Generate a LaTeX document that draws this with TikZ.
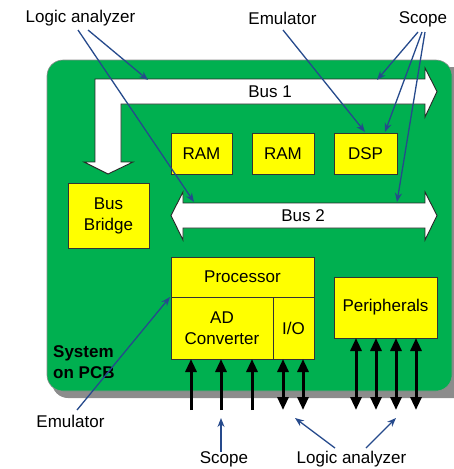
\documentclass[tikz,border=0pt]{standalone}
\usepackage{fontspec}
\setmainfont{Liberation Sans}
\usetikzlibrary{arrows.meta}
\definecolor{pcbgreen}{RGB}{0,176,80}
\definecolor{chipyellow}{RGB}{255,255,0}
\definecolor{probeblue}{RGB}{38,74,140}
\definecolor{shadowgray}{RGB}{140,140,140}
\begin{document}
\begin{tikzpicture}[x=1pt,y=-1pt,
  font=\fontsize{17}{20}\selectfont,
  chip/.style={draw=black!80,line width=0.8pt,fill=chipyellow,inner sep=0pt,align=center},
  tag/.style={inner sep=0pt},
  probe/.style={draw=probeblue,line width=1.3pt,-{Stealth[length=9pt,width=7pt]}},
  pin/.style={draw=black,line width=3pt,-{Triangle[length=13pt,width=11pt]}},
  bipin/.style={draw=black,line width=3pt,{Triangle[length=13pt,width=11pt]}-{Triangle[length=13pt,width=11pt]}},
  busbody/.style={draw=black!85,line width=0.9pt,fill=white,line join=miter}]
\useasboundingbox (0,0) rectangle (453,469);

% board with its drop shadow
\fill[shadowgray,rounded corners=16pt] (52,67) rectangle (470,398);
\filldraw[fill=pcbgreen,draw=black!45,line width=0.6pt,rounded corners=16pt] (47,60) rectangle (452,391);

% Bus 1: L-shaped bus running right, then down to the bridge
\draw[busbody] (95,79) -- (425,79) -- (425,68) -- (437,91.5) -- (425,117) -- (425,104)
  -- (121,104) -- (121,162) -- (133,162) -- (108,174) -- (84,162) -- (95,162) -- cycle;
\node[tag] (bus1) at (270,91.5) {Bus 1};

% Bus 2: double-headed bus
\draw[busbody] (183,203) -- (425,203) -- (425,192) -- (437,215.5) -- (425,240) -- (425,228)
  -- (183,228) -- (183,240) -- (171,215.5) -- (183,192) -- cycle;
\node[tag] (bus2) at (303,215.5) {Bus 2};

% chips
\node[chip,minimum width=61pt,minimum height=41pt] (ram1) at (201.5,153.5) {RAM};
\node[chip,minimum width=62pt,minimum height=41pt] (ram2) at (283,153.5) {RAM};
\node[chip,minimum width=63pt,minimum height=41pt] (dsp) at (365.5,153.5) {DSP};
\node[chip,minimum width=81pt,minimum height=65pt] (bridge) at (108.5,215.5) {Bus\\[1pt]Bridge};
\node[chip,minimum width=143pt,minimum height=40pt] (cpu) at (242.5,277) {Processor};
\node[chip,minimum width=102pt,minimum height=62pt] (adc) at (222,328) {AD\\[1pt]Converter};
\node[chip,minimum width=41pt,minimum height=62pt] (io) at (293.5,328) {I/O};
\node[chip,minimum width=103pt,minimum height=61pt] (periph) at (385.5,307.5) {Peripherals};

% board caption
\node[tag,anchor=base west,font=\fontsize{17}{20}\selectfont\bfseries] (sys1) at (53,357) {System};
\node[tag,anchor=base west,font=\fontsize{17}{20}\selectfont\bfseries] (sys2) at (53,378) {on PCB};

% signal pins leaving the board
\foreach \x [count=\i] in {191,221,252} {
  \coordinate (ain\i) at (\x,410);
  \coordinate (aend\i) at (\x,359);
  \draw[pin] (ain\i) -- (aend\i);
}
\foreach \x [count=\i] in {283,303} {
  \coordinate (iotop\i) at (\x,359);
  \coordinate (iobot\i) at (\x,410);
  \draw[bipin] (iotop\i) -- (iobot\i);
}
\foreach \x [count=\i] in {356,376,396,416} {
  \coordinate (ptop\i) at (\x,338);
  \coordinate (pbot\i) at (\x,410);
  \draw[bipin] (ptop\i) -- (pbot\i);
}

% instrument labels
\node[tag] (la) at (80.5,18) {Logic analyzer};
\node[tag] (emu) at (282.5,18) {Emulator};
\node[tag] (scope) at (423,19) {Scope};
\node[tag] (emub) at (70.5,421) {Emulator};
\node[tag] (scopeb) at (224,459) {Scope};
\node[tag] (lab) at (351.5,459) {Logic analyzer};

% probe attachment points
\coordinate (laA) at (88,30);   \coordinate (laB) at (78,30);
\coordinate (bus1L) at (148,80); \coordinate (bus2L) at (194,202);
\coordinate (emuA) at (283,30);  \coordinate (dspL) at (365,132);
\coordinate (scA) at (418,32);   \coordinate (scB) at (422,32);  \coordinate (scC) at (425,32);
\coordinate (bus1R) at (377,80); \coordinate (dspR) at (385,132); \coordinate (bus2R) at (397,202);
\coordinate (emubA) at (77,410); \coordinate (cpuL) at (170,297);
\coordinate (scbA) at (221,452); \coordinate (scbT) at (221,418);
\coordinate (labA) at (335,448); \coordinate (labB) at (366,448);
\coordinate (ioT) at (295,418);  \coordinate (pT) at (396,418);

% probes
\draw[probe] (laA) -- (bus1L);
\draw[probe] (laB) -- (bus2L);
\draw[probe] (emuA) -- (dspL);
\draw[probe] (scA) -- (bus1R);
\draw[probe] (scB) -- (dspR);
\draw[probe] (scC) -- (bus2R);
\draw[probe] (emubA) -- (cpuL);
\draw[probe] (scbA) -- (scbT);
\draw[probe] (labA) -- (ioT);
\draw[probe] (labB) -- (pT);
\end{tikzpicture}
\end{document}
